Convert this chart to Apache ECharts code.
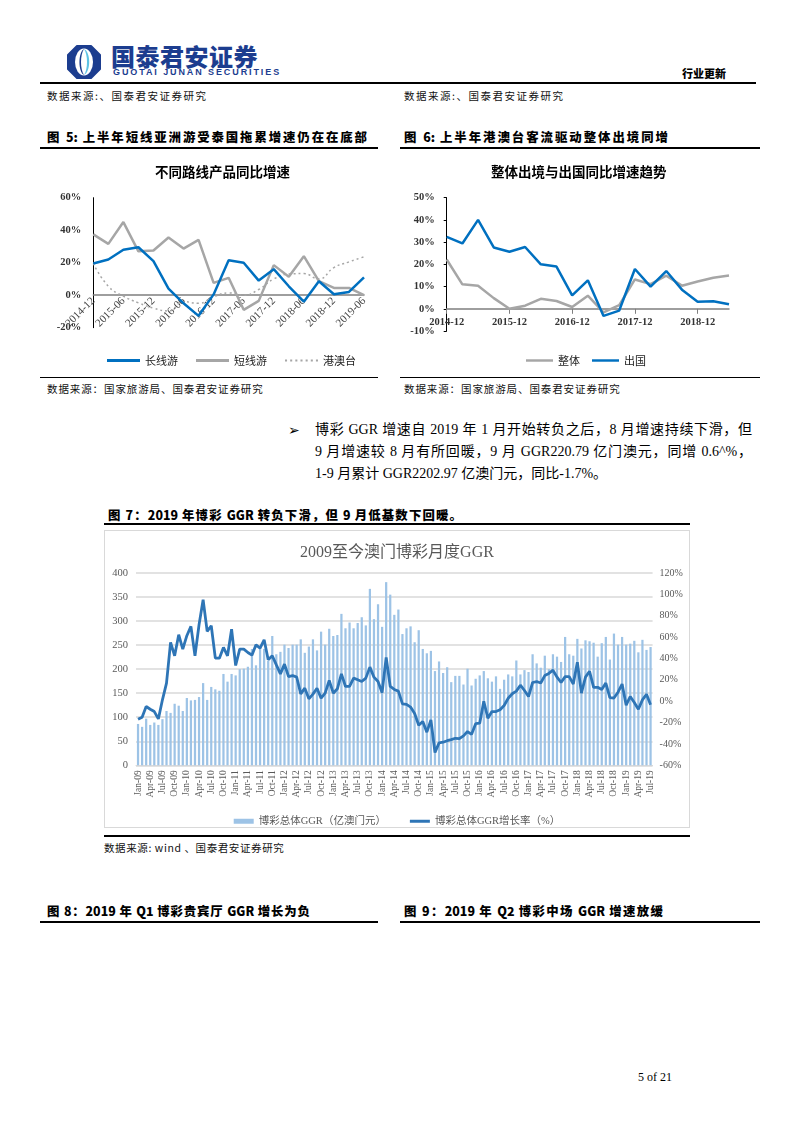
<!DOCTYPE html>
<html><head><meta charset="utf-8">
<script src="https://cdn.jsdelivr.net/npm/echarts@6/dist/echarts.min.js"></script>
<style>
body{margin:0;width:793px;height:1122px;position:relative;background:#fff;font-family:"Liberation Serif","Noto Sans CJK SC",serif;color:#000;overflow:hidden;}
.a{position:absolute;white-space:nowrap;}
.src{font-family:"Noto Sans CJK SC",sans-serif;font-size:10.5px;line-height:14px;color:#111;}
.ft{font-family:"Noto Sans CJK SC",sans-serif;font-weight:900;font-size:12.4px;line-height:18px;text-align:justify;text-align-last:justify;}
.rule{position:absolute;height:1.5px;background:#000;}
.body{font-family:"Liberation Serif","Noto Sans CJK SC",serif;font-size:14px;line-height:20px;}
</style></head>
<body>
<svg class="a" style="left:67px;top:45px" width="34" height="34" viewBox="0 0 34 34">
  <path d="M10,1 H24 L33,10 V24 L24,33 H10 L1,24 V10 Z" fill="#1c3d8f" stroke="#1c3d8f" stroke-width="2" stroke-linejoin="round"/>
  <ellipse cx="17" cy="17" rx="9" ry="13.5" fill="#fff"/>
  <path d="M17,4 C24,7 24,27 17,30 C21,24 21,10 17,4 Z" fill="#5fc3e4"/>
  <path d="M17,4 C13,10 13,24 17,30 C11,27 11,7 17,4 Z" fill="#1c3d8f"/>
</svg>
<div class="a" style="left:111px;top:42px;font-family:'Noto Sans CJK SC';font-weight:900;font-size:24px;line-height:28px;color:#1c3d8f;letter-spacing:0.5px">国泰君安证券</div>
<div class="a" style="left:113px;top:67px;font-family:'Liberation Sans',sans-serif;font-weight:bold;font-size:9px;line-height:11px;color:#1c3d8f;letter-spacing:1.9px">GUOTAI JUNAN SECURITIES</div>
<div class="a" style="left:682px;top:66px;font-family:'Noto Sans CJK SC';font-weight:900;font-size:11px;line-height:14px">行业更新</div>
<div class="rule" style="left:40px;top:82px;width:716px;height:2px"></div>

<div class="a src" style="left:47px;top:89px;letter-spacing:1.5px">数据来源:、国泰君安证券研究</div>
<div class="a src" style="left:404px;top:89px;letter-spacing:1.5px">数据来源:、国泰君安证券研究</div>

<div class="a ft" style="left:47px;top:128px;width:320px">图 5: 上半年短线亚洲游受泰国拖累增速仍在在底部</div>
<div class="a ft" style="left:404px;top:128px;width:264px">图 6: 上半年港澳台客流驱动整体出境同增</div>
<div class="rule" style="left:40px;top:147px;width:338px"></div>
<div class="rule" style="left:400px;top:147px;width:360px"></div>

<div id="c5" class="a" style="left:40px;top:150px;width:340px;height:220px"></div>
<div id="c6" class="a" style="left:400px;top:150px;width:360px;height:220px"></div>
<div class="rule" style="left:40px;top:377px;width:338px;height:1px"></div>
<div class="rule" style="left:400px;top:377px;width:360px;height:1px"></div>

<div class="a src" style="left:47px;top:382px;letter-spacing:0.9px">数据来源：国家旅游局、国泰君安证券研究</div>
<div class="a src" style="left:404px;top:382px;letter-spacing:0.9px">数据来源：国家旅游局、国泰君安证券研究</div>

<div class="a" style="left:288px;top:420px;font-family:'DejaVu Sans';font-size:14px;line-height:20px">➢</div>
<div class="a body" style="left:315px;top:420px;width:437px;text-align:justify;text-align-last:justify">博彩 GGR 增速自 2019 年 1 月开始转负之后，8 月增速持续下滑，但</div>
<div class="a body" style="left:315px;top:442px;width:437px;text-align:justify;text-align-last:justify">9 月增速较 8 月有所回暖，9 月 GGR220.79 亿门澳元，同增 0.6^%，</div>
<div class="a body" style="left:315px;top:464px">1-9 月累计 GGR2202.97 亿澳门元，同比-1.7%。</div>

<div class="a ft" style="left:108px;top:506px;width:354px">图 7：2019 年博彩 GGR 转负下滑，但 9 月低基数下回暖。</div>
<div class="rule" style="left:104px;top:523px;width:586px"></div>
<div id="c7" class="a" style="left:104px;top:530px;width:586px;height:298px;border:1px solid #d9d9d9;box-sizing:border-box"></div>
<div class="rule" style="left:104px;top:835px;width:586px"></div>
<div class="a src" style="left:104px;top:841px;letter-spacing:0.6px">数据来源: wind 、国泰君安证券研究</div>

<div class="a ft" style="left:47px;top:902px;width:263px">图 8：2019 年 Q1 博彩贵宾厅 GGR 增长为负</div>
<div class="a ft" style="left:404px;top:902px;width:259px">图 9：2019 年 Q2 博彩中场 GGR 增速放缓</div>
<div class="rule" style="left:40px;top:921px;width:338px"></div>
<div class="rule" style="left:400px;top:921px;width:360px"></div>

<div class="a" style="left:638px;top:1069px;font-size:12px;line-height:16px">5 of 21</div>

<script>
// ---------- Figure 5 data (quarterly YoY, %) ----------
const quarterCats = ['2014-12','2015-03','2015-06','2015-09','2015-12','2016-03','2016-06','2016-09','2016-12','2017-03','2017-06','2017-09','2017-12','2018-03','2018-06','2018-09','2018-12','2019-03','2019-06'];
const longHaul  = [19.5,22,28,29.5,21,4,-5,-12.7,0.5,21.5,20,9,16,5.5,-4,8.6,0.6,2,11];
const shortHaul = [37.4,31.6,45,27,27.5,35.5,28.7,34,7.6,10.7,-9,-3.5,18.5,11.3,24,8.6,4.5,4.5,0];
const hkMoTw    = [19.5,5.5,-0.6,-4.7,-8,-9.7,-4,-5,-1,1.4,0,3.5,10,13,13.3,10,17,20.5,23.6];

// ---------- Figure 6 data (quarterly YoY, %) ----------
const totalOutbound = [22.2,11,10.4,4.8,0,1.4,4.5,3.5,0.8,5.9,-1.6,1.6,13.2,11.1,14.9,10.4,12.3,14,15];
const abroad        = [32.4,29.4,40,27.6,25.7,27.8,20,19,6,12.8,-3.2,-0.8,17.9,10,17,8.6,3.2,3.4,2];

// ---------- Figure 7 data (monthly) ----------
const monthNames = ['Jan','Feb','Mar','Apr','May','Jun','Jul','Aug','Sep','Oct','Nov','Dec'];
const monthCats = [];
for (let y = 2009; y <= 2019; y++) {
  for (let m = 0; m < 12; m++) {
    if (y === 2019 && m > 6) break;
    monthCats.push(monthNames[m] + '-' + String(y).slice(2));
  }
}
// 博彩总体GGR（亿澳门元）
const ggr = [
  86,80,97,84,89,84,96,113,109,128,124,113,
  140,135,136,142,171,136,163,158,155,190,174,190,
  187,200,201,205,242,208,244,242,217,269,231,236,
  251,244,251,251,262,234,247,262,239,278,251,284,
  269,271,315,285,297,285,296,308,291,367,304,335,
  288,381,355,313,324,273,285,289,256,281,242,233,
  238,196,216,192,204,173,186,186,168,201,166,180,
  187,196,181,174,185,159,178,189,185,218,189,198,
  194,231,212,203,228,200,231,226,215,267,231,228,
  263,243,260,258,255,226,254,267,220,274,251,267,
  251,253,259,235,261,240,246
];
// 博彩总体GGR增长率（%）
const ggrYoY = [
  -16.9,-15,-5,-7.5,-9.7,-16.6,1.3,16.9,55,42.5,62.2,48.8,
  61.3,70,42.5,71.6,95,65.3,70.6,40.3,40.3,50.3,42.5,67.5,
  33.4,48.8,48.8,45.6,43.1,52.8,49.7,57.5,38.8,42.5,34,25.6,
  34.7,23.1,24,22.5,6.9,12.2,2.2,6.6,12.2,2.8,7.5,19.4,
  7.5,11.6,25.6,13.8,13.8,21.6,20,18.4,21.6,31.9,22.5,18.4,
  8,41,13.8,11,9.4,-2.5,-3,-5.5,-11.5,-22.5,-19,-29,
  -17.5,-48,-39,-38.4,-37,-36,-34.7,-35,-32.5,-28.4,-31,-21,
  -20.6,0,-16,-9.7,-9.7,-8,-4,2.8,7,9.4,15,10,
  4.4,17.5,18.4,17,24,26,29,22.5,17.5,23,23,16,
  36.5,7.5,22.5,28,13,13,11,17,3.4,3,8.4,16,
  -3.75,4.4,-1.25,-7.5,1.25,6.5,-3.4
];

const SERIF = '"Liberation Serif","Noto Sans CJK SC",serif';
const CJK = '"Noto Sans CJK SC",sans-serif';
const SOLID_ICON = 'path://M0,0h33v3h-33z';
const DOT_ICON = 'path://M0,0h2v2h-2z M5,0h2v2h-2z M10,0h2v2h-2z M15,0h2v2h-2z M20,0h2v2h-2z M25,0h2v2h-2z M30,0h2v2h-2z';

// ---------- Chart 5 ----------
const c5 = echarts.init(document.getElementById('c5'));
c5.setOption({
  animation:false,
  title:{text:'不同路线产品同比增速', left:110, top:10, textStyle:{fontFamily:CJK, fontWeight:'bold', fontSize:13.5, color:'#000'}},
  grid:{left:53.3, right:16, top:47.7, bottom:42.3},
  legend:{left:62, top:200, itemWidth:33, itemHeight:10, itemGap:18, textStyle:{fontFamily:CJK, fontSize:11, color:'#222'},
    data:[{name:'长线游', icon:SOLID_ICON},{name:'短线游', icon:SOLID_ICON},{name:'港澳台', icon:DOT_ICON}]},
  xAxis:{type:'category', data:quarterCats, boundaryGap:false, offset:-32.5,
    axisLine:{onZero:false, lineStyle:{color:'#7f7f7f', width:1.5}},
    axisTick:{show:false},
    axisLabel:{interval:1, rotate:45, margin:4, fontFamily:SERIF, fontSize:11, color:'#444'}},
  yAxis:{type:'value', min:-20, max:60, interval:20,
    axisLine:{show:true, lineStyle:{color:'#000', width:1}},
    axisTick:{show:false}, splitLine:{show:false},
    axisLabel:{margin:12, fontFamily:SERIF, fontWeight:'bold', fontSize:10.5, color:'#333', formatter:'{value}%'}},
  series:[
    {name:'长线游', type:'line', data:longHaul, symbol:'none', lineStyle:{color:'#0070c0', width:2.5}, itemStyle:{color:'#0070c0'}, z:5},
    {name:'短线游', type:'line', data:shortHaul, symbol:'none', lineStyle:{color:'#a6a6a6', width:2.5}, itemStyle:{color:'#a6a6a6'}, z:4},
    {name:'港澳台', type:'line', data:hkMoTw, symbol:'none', smooth:true, lineStyle:{color:'#a6a6a6', width:1.5, type:[2,3]}, itemStyle:{color:'#a6a6a6'}, z:3}
  ]
});

// ---------- Chart 6 ----------
const c6 = echarts.init(document.getElementById('c6'));
c6.setOption({
  animation:false,
  title:{text:'整体出境与出国同比增速趋势', left:86, top:10, textStyle:{fontFamily:CJK, fontWeight:'bold', fontSize:13.5, color:'#000'}},
  grid:{left:46.7, right:31, top:47.7, bottom:39},
  legend:{left:121, top:200, itemWidth:27, itemHeight:10, itemGap:12, textStyle:{fontFamily:CJK, fontSize:11, color:'#222'},
    data:[{name:'整体', icon:SOLID_ICON},{name:'出国', icon:SOLID_ICON}]},
  xAxis:{type:'category', data:quarterCats, boundaryGap:false, offset:-22.2,
    axisLine:{onZero:false, lineStyle:{color:'#7f7f7f', width:1.5}},
    axisTick:{show:true, interval:3, length:5, lineStyle:{color:'#7f7f7f'}},
    axisLabel:{interval:3, margin:8, fontFamily:SERIF, fontWeight:'bold', fontSize:10.5, color:'#333'}},
  yAxis:{type:'value', min:-10, max:50, interval:10,
    axisLine:{show:true, lineStyle:{color:'#000', width:1}},
    axisTick:{show:true, length:3, lineStyle:{color:'#000'}}, splitLine:{show:false},
    axisLabel:{margin:12, fontFamily:SERIF, fontWeight:'bold', fontSize:10.5, color:'#333', formatter:'{value}%'}},
  series:[
    {name:'整体', type:'line', data:totalOutbound, symbol:'none', lineStyle:{color:'#a6a6a6', width:2.5}, itemStyle:{color:'#a6a6a6'}, z:3},
    {name:'出国', type:'line', data:abroad, symbol:'none', lineStyle:{color:'#0070c0', width:2.5}, itemStyle:{color:'#0070c0'}, z:4}
  ]
});

// ---------- Chart 7 ----------
const c7 = echarts.init(document.getElementById('c7'));
c7.setOption({
  animation:false,
  title:{text:'2009至今澳门博彩月度GGR', left:'center', top:9, textStyle:{fontFamily:SERIF, fontWeight:'normal', fontSize:16, color:'#595959'}},
  grid:{left:31, right:36.4, top:42, bottom:61.7},
  legend:{left:'center', top:280, itemGap:24, itemWidth:20, itemHeight:5,
    textStyle:{fontFamily:SERIF, fontSize:10.5, color:'#595959'},
    data:[{name:'博彩总体GGR（亿澳门元）', icon:'rect'},
          {name:'博彩总体GGR增长率（%）', icon:'path://M0,0h20v3h-20z'}]},
  xAxis:{type:'category', data:monthCats, boundaryGap:true,
    axisLine:{lineStyle:{color:'#d9d9d9', width:1}},
    axisTick:{show:false},
    axisLabel:{interval:2, rotate:90, margin:5, fontFamily:SERIF, fontSize:9.5, color:'#595959'}},
  yAxis:[
    {type:'value', min:0, max:400, interval:50,
     axisLine:{show:false}, axisTick:{show:false},
     splitLine:{lineStyle:{color:'#d9d9d9', width:1.5}},
     axisLabel:{margin:8, fontFamily:SERIF, fontSize:10.5, color:'#595959'}},
    {type:'value', min:-60, max:120, interval:20, position:'right',
     axisLine:{show:false}, axisTick:{show:false}, splitLine:{show:false},
     axisLabel:{margin:7, fontFamily:SERIF, fontSize:10, color:'#595959', formatter:'{value}%'}}
  ],
  series:[
    {name:'博彩总体GGR（亿澳门元）', type:'bar', data:ggr, barWidth:'55%', itemStyle:{color:'#9dc3e6'}},
    {name:'博彩总体GGR增长率（%）', type:'line', yAxisIndex:1, data:ggrYoY, symbol:'none',
     lineStyle:{color:'#2e75b6', width:2.8}, itemStyle:{color:'#2e75b6'}, z:5}
  ]
});
</script>
</body></html>
